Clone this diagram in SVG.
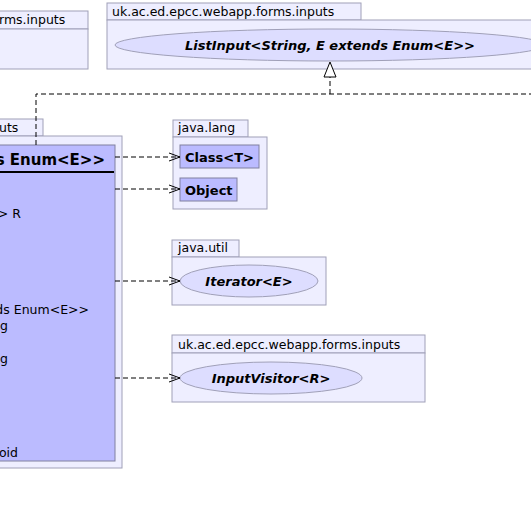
<svg xmlns="http://www.w3.org/2000/svg" width="531" height="507" viewBox="0 0 531 507">
<defs>
<style>
.pkg{fill:#eeeeff;stroke:#a0a0b8;stroke-width:1}
.cls{fill:#bbbbff;stroke:#8080a0;stroke-width:1}
.ifc{fill:#ddddff;stroke:#a0a0b8;stroke-width:1}
.pl{font-family:"DejaVu Sans",sans-serif;font-size:12.5px;fill:#000}
.b{font-family:"DejaVu Sans",sans-serif;font-size:13px;font-weight:bold;fill:#000}
.bi{font-family:"DejaVu Sans",sans-serif;font-size:13px;font-weight:bold;font-style:italic;fill:#000}
.m{font-family:"DejaVu Sans",sans-serif;font-size:12.5px;fill:#000}
.dep{fill:none;stroke:#000;stroke-width:1;stroke-dasharray:5,3}
</style>
<marker id="open" markerWidth="12" markerHeight="10" refX="11" refY="5" orient="auto" markerUnits="userSpaceOnUse">
<path d="M0,1 L11,5 L0,9" fill="none" stroke="#000" stroke-width="1"/>
</marker>
</defs>
<rect width="531" height="507" fill="#fff"/>

<g id="pkg-topleft">
<rect class="pkg" x="-2" y="11" width="90" height="18"/>
<rect class="pkg" x="-2" y="29" width="90" height="40"/>
<text class="pl" x="-1" y="24">rms.inputs</text>
</g>

<g id="pkg-listinput">
<rect class="pkg" x="107" y="3" width="254" height="17"/>
<rect class="pkg" x="107" y="20" width="440" height="49"/>
<text class="pl" x="112" y="16">uk.ac.ed.epcc.webapp.forms.inputs</text>
<ellipse class="ifc" cx="330" cy="45" rx="215" ry="16"/>
<text class="bi" x="330" y="50" text-anchor="middle">ListInput&lt;String, E extends Enum&lt;E&gt;&gt;</text>
</g>

<g id="pkg-left">
<rect class="pkg" x="-2" y="119" width="45" height="17"/>
<rect class="pkg" x="-2" y="136" width="124" height="332"/>
<text class="pl" x="-1" y="132">uts</text>
</g>

<g id="class-main">
<rect class="cls" x="-2" y="145" width="117" height="316"/>
<text x="105" y="165" text-anchor="end" style="font-family:'DejaVu Sans',sans-serif;font-size:15px;font-weight:bold">s Enum&lt;E&gt;&gt;</text>
<line x1="-2" y1="172" x2="114" y2="172" stroke="#000" stroke-width="2"/>
<text class="m" x="21" y="218" text-anchor="end">&gt; R</text>
<text class="m" x="89" y="314" text-anchor="end">ds Enum&lt;E&gt;&gt;</text>
<text class="m" x="8" y="330" text-anchor="end">g</text>
<text class="m" x="8" y="363" text-anchor="end">g</text>
<text class="m" x="18" y="457" text-anchor="end">oid</text>
</g>

<g id="pkg-java-lang">
<rect class="pkg" x="173" y="120" width="75" height="17"/>
<rect class="pkg" x="173" y="137" width="94" height="72"/>
<text class="pl" x="178" y="132">java.lang</text>
<g id="class-Class">
<rect class="cls" x="180" y="145" width="79" height="23"/>
<text class="b" x="185" y="162">Class&lt;T&gt;</text>
</g>
<g id="class-Object">
<rect class="cls" x="180" y="178" width="57" height="23"/>
<text class="b" x="185" y="195">Object</text>
</g>
</g>

<g id="pkg-java-util">
<rect class="pkg" x="172" y="240" width="67" height="17"/>
<rect class="pkg" x="172" y="257" width="154" height="48"/>
<text class="pl" x="178" y="252">java.util</text>
<ellipse class="ifc" cx="249" cy="281" rx="69" ry="16"/>
<text class="bi" x="249" y="286" text-anchor="middle">Iterator&lt;E&gt;</text>
</g>

<g id="pkg-inputvisitor">
<rect class="pkg" x="172" y="335" width="253" height="18"/>
<rect class="pkg" x="172" y="353" width="253" height="49"/>
<text class="pl" x="178" y="349">uk.ac.ed.epcc.webapp.forms.inputs</text>
<ellipse class="ifc" cx="271" cy="378" rx="91" ry="16"/>
<text class="bi" x="271" y="383" text-anchor="middle">InputVisitor&lt;R&gt;</text>
</g>

<g id="connectors">
<path class="dep" d="M36,145 L36,94 L540,94"/>
<path class="dep" d="M330,94 L330,77"/>
<path d="M330,62 L324,77 L336,77 Z" fill="#fff" stroke="#000" stroke-width="1"/>
<line class="dep" x1="115" y1="157" x2="180" y2="157" marker-end="url(#open)"/>
<line class="dep" x1="115" y1="189" x2="180" y2="189" marker-end="url(#open)"/>
<line class="dep" x1="115" y1="281" x2="180" y2="281" marker-end="url(#open)"/>
<line class="dep" x1="115" y1="378" x2="180" y2="378" marker-end="url(#open)"/>
</g>
</svg>
